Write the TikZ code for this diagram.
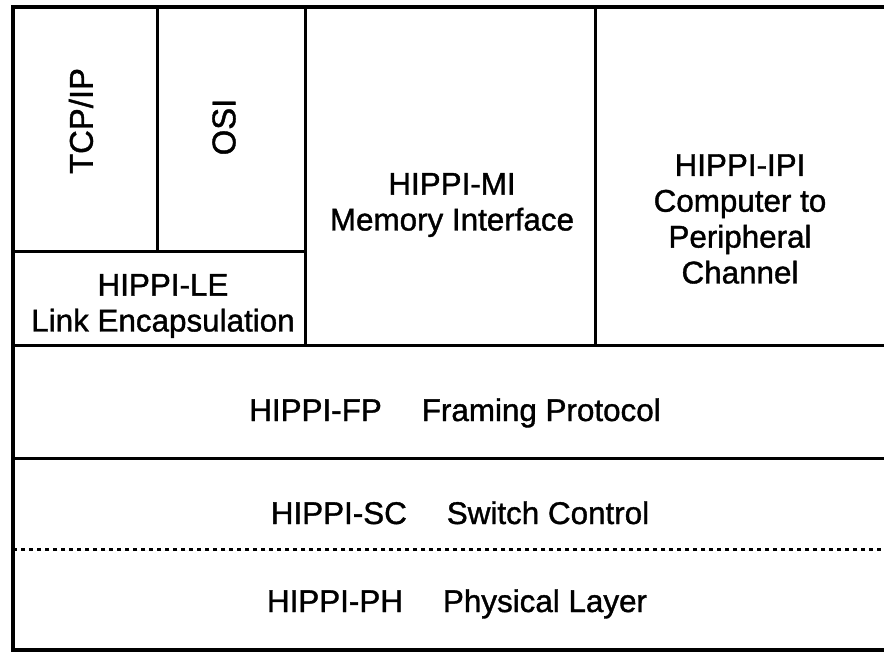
\documentclass[tikz,border=0pt]{standalone}
\usepackage{fontspec}
\setmainfont{Liberation Sans}[FakeBold=1.2]
\begin{document}
\begin{tikzpicture}[x=1bp,y=-1bp,
  rule/.style={line width=3bp,line cap=rect},
  outer/.style={line width=3.2bp,line cap=rect},
  dotrule/.style={line width=3bp,dash pattern=on 4bp off 4bp},
  lbl/.style={font=\fontsize{31.5}{36}\selectfont,align=center,inner sep=0pt},
  vlbl/.style={font=\fontsize{33}{36}\selectfont,inner sep=0pt,rotate=90}]
\useasboundingbox (0,0) rectangle (884,657);
\fill[white] (0,0) rectangle (884,657);
% frame
\coordinate (tl) at (13,7);
\coordinate (tr) at (884,7);
\coordinate (bl) at (13,650);
\coordinate (br) at (884,650);
\draw[outer] (tr) -- (tl) -- (bl) -- (br);
% vertical dividers
\coordinate (d1t) at (157,7);   \coordinate (d1b) at (157,251);
\coordinate (d2t) at (305,7);   \coordinate (d2b) at (305,345);
\coordinate (d3t) at (595,7);   \coordinate (d3b) at (595,345);
\draw[rule] (d1t) -- (d1b);
\draw[rule] (d2t) -- (d2b);
\draw[rule] (d3t) -- (d3b);
% horizontal rules
\coordinate (h1l) at (13,251);  \coordinate (h1r) at (305,251);
\coordinate (h2l) at (13,345);  \coordinate (h2r) at (884,345);
\coordinate (h3l) at (13,458);  \coordinate (h3r) at (884,458);
\coordinate (h4l) at (13,549);  \coordinate (h4r) at (884,549);
\draw[rule] (h1l) -- (h1r);
\draw[rule] (h2l) -- (h2r);
\draw[rule] (h3l) -- (h3r);
\draw[dotrule] (h4l) -- (h4r);
% labels
\node[vlbl] (tcp) at (81,121) {TCP/IP};
\node[vlbl] (osi) at (224,127) {OSI};
\node[lbl] (mi) at (452,205) {HIPPI-MI\\Memory Interface};
\node[lbl] (ipi) at (740,219) {HIPPI-IPI\\Computer to\\Peripheral\\Channel};
\node[lbl] (le) at (163,306) {HIPPI-LE\\Link Encapsulation};
\node[lbl,anchor=base] (fp) at (455,421) {HIPPI-FP\hspace{40bp}Framing Protocol};
\node[lbl,anchor=base] (sc) at (460,524) {HIPPI-SC\hspace{40bp}Switch Control};
\node[lbl,anchor=base] (ph) at (457,612) {HIPPI-PH\hspace{40bp}Physical Layer};
\end{tikzpicture}
\end{document}
